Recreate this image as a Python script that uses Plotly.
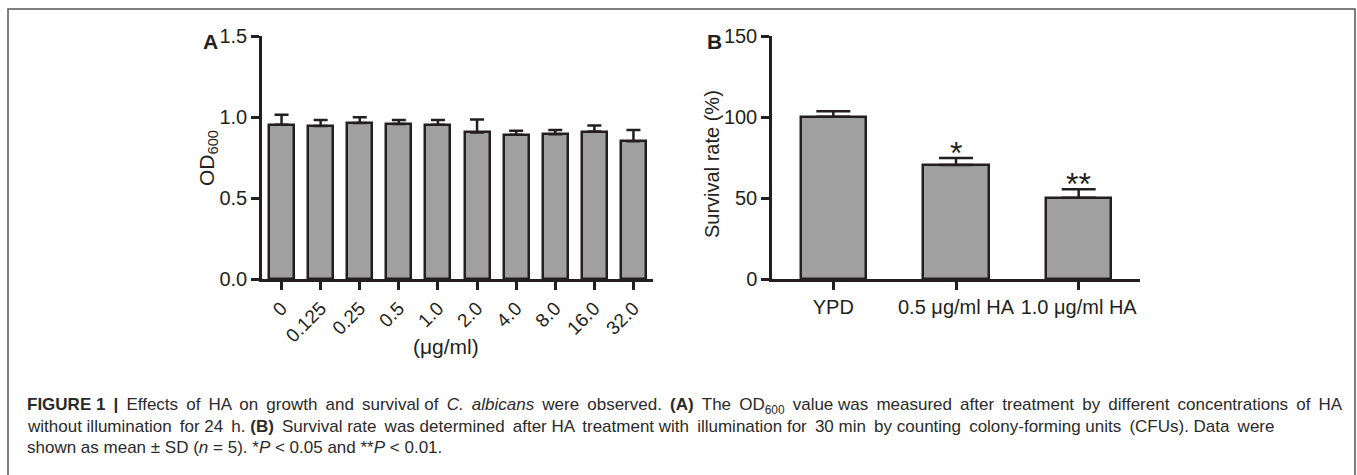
import plotly.graph_objects as go

# ---------------- data ----------------
conc_labels = ["0", "0.125", "0.25", "0.5", "1.0", "2.0", "4.0", "8.0", "16.0", "32.0"]
od_mean = [0.952, 0.944, 0.963, 0.957, 0.952, 0.905, 0.890, 0.893, 0.910, 0.850]
od_sd = [0.062, 0.037, 0.035, 0.025, 0.030, 0.080, 0.025, 0.027, 0.038, 0.070]

groups_b = ["YPD", "0.5 μg/ml HA", "1.0 μg/ml HA"]
surv_mean = [100.2, 70.4, 50.2]
surv_sd = [3.3, 4.3, 5.2]
sig_marks = ["", "*", "**"]

caption_lines = [
    "<b>FIGURE 1 |</b> Effects of HA on growth and survival of <i>C. albicans</i> were observed. "
    "<b>(A)</b> The OD<sub>600</sub> value was measured after treatment by different concentrations of HA",
    "without illumination for 24 h. <b>(B)</b> Survival rate was determined after HA treatment with "
    "illumination for 30 min by counting colony-forming units (CFUs). Data were",
    "shown as mean ± SD (<i>n</i> = 5). *<i>P</i> &lt; 0.05 and **<i>P</i> &lt; 0.01.",
]
# how many word gaps get an extra thin space (imitates the justified caption)
caption_extra = [24, 12, 0]

W, H = 1357, 475
INK = "#231f20"
BAR = "#a0a0a0"
FONT = "Liberation Sans, Arial, sans-serif"


def px(x):
    return x / W


def py(y):
    return 1 - y / H


def justify(line, n_extra):
    words = line.split(" ")
    gaps = len(words) - 1
    out = words[0]
    for k, w in enumerate(words[1:]):
        # spread the wider gaps evenly along the line
        wide = n_extra > 0 and int((k + 1) * n_extra / gaps) != int(k * n_extra / gaps)
        out += (" \u2009" if wide else " ") + w
    return out


fig = go.Figure()

fig.add_trace(go.Bar(
    x=conc_labels, y=od_mean, width=0.64,
    marker=dict(color=BAR, line=dict(color=INK, width=2.5)),
    error_y=dict(type="data", array=od_sd, arrayminus=[0] * len(od_sd), symmetric=False,
                 color=INK, thickness=2.5, width=7),
    xaxis="x", yaxis="y", showlegend=False, hoverinfo="skip",
))

fig.add_trace(go.Bar(
    x=groups_b, y=surv_mean, width=0.53,
    marker=dict(color=BAR, line=dict(color=INK, width=2.5)),
    error_y=dict(type="data", array=surv_sd, arrayminus=[0] * len(surv_sd), symmetric=False,
                 color=INK, thickness=2.5, width=17),
    xaxis="x2", yaxis="y2", showlegend=False, hoverinfo="skip",
))


def axis_style(size):
    return dict(showline=True, linecolor=INK, linewidth=2.5, ticks="outside",
                ticklen=8, tickwidth=2.5, tickcolor=INK, showgrid=False, zeroline=False,
                automargin=False, tickfont=dict(family=FONT, size=size, color=INK))


fig.update_layout(
    template="none",
    width=W, height=H,
    margin=dict(l=0, r=0, t=0, b=0, pad=0),
    paper_bgcolor="white", plot_bgcolor="white",
    font=dict(family=FONT, color=INK),
    bargap=0,
    showlegend=False,
    xaxis=dict(type="category", domain=[px(262), px(653)], anchor="y", range=[-0.5, 9.5],
               tickangle=-45, **axis_style(19)),
    yaxis=dict(domain=[py(279), py(36)], anchor="x", range=[0, 1.5],
               tickvals=[0, 0.5, 1.0, 1.5], ticktext=["0.0", "0.5", "1.0", "1.5"], **axis_style(20)),
    xaxis2=dict(type="category", domain=[px(772), px(1140)], anchor="y2", range=[-0.5, 2.5],
                **axis_style(20)),
    yaxis2=dict(domain=[py(279), py(36)], anchor="x2", range=[0, 150],
                tickvals=[0, 50, 100, 150], **axis_style(20)),
)

ann = []


def label(x, y, text, size, angle=0, xanchor="center"):
    ann.append(dict(x=px(x), y=py(y), xref="paper", yref="paper", text=text,
                    textangle=angle, showarrow=False, xanchor=xanchor, yanchor="middle",
                    font=dict(size=size, family=FONT, color=INK)))


# panel letters
label(210, 41, "<b>A</b>", 21)
label(714, 41, "<b>B</b>", 21)
# axis titles
label(208, 158, "OD<sub>600</sub>", 21, angle=-90)
label(712, 164, "Survival rate (%)", 20, angle=-90)
label(446, 346, "(μg/ml)", 21)

# significance marks
for g, m, s, mark in zip(groups_b, surv_mean, surv_sd, sig_marks):
    if mark:
        ann.append(dict(x=g, y=m + s, xref="x2", yref="y2", text=mark, showarrow=False,
                        xanchor="center", yanchor="bottom", yshift=-15,
                        font=dict(size=32, family=FONT, color=INK)))

# caption
for i, (line, n_extra) in enumerate(zip(caption_lines, caption_extra)):
    ann.append(dict(x=px(25), y=py(406 + 20.5 * i), xref="paper", yref="paper",
                    text=justify(line, n_extra),
                    xanchor="left", yanchor="middle", showarrow=False,
                    font=dict(size=17, family=FONT, color="#2a2a2a")))

fig.update_layout(annotations=ann)

fig.add_shape(type="rect", xref="paper", yref="paper", x0=px(8), x1=px(1355), y0=py(490), y1=py(9),
              line=dict(color="#555555", width=1.5), fillcolor="rgba(0,0,0,0)", layer="below")

fig.write_html("out.html", config={"displayModeBar": False},
               post_script="document.body.style.margin='0';document.body.style.overflow='hidden';")
